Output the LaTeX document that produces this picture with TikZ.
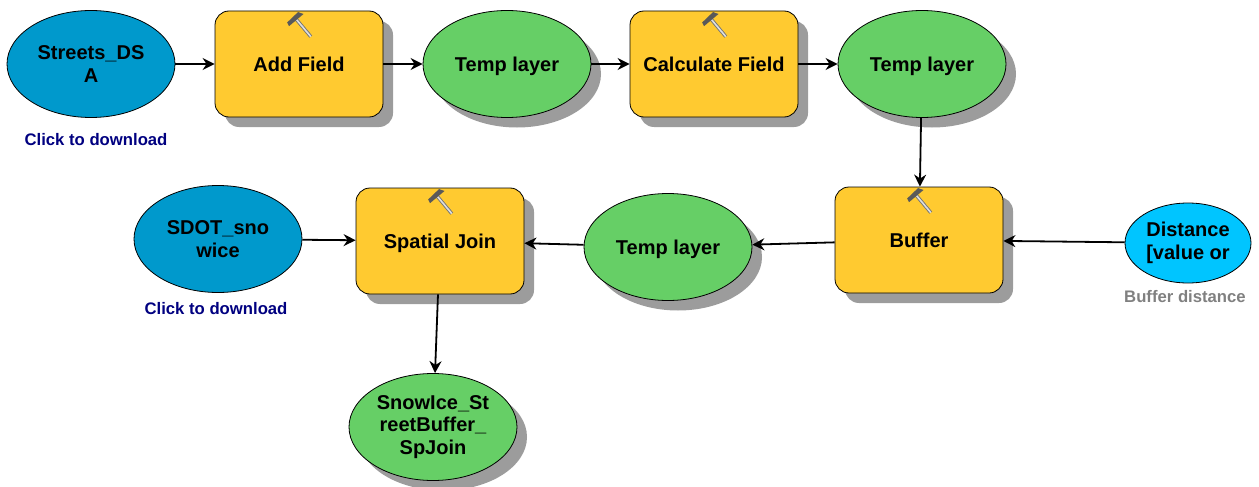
\documentclass[tikz,border=0pt]{standalone}
\usepackage{fontspec}
\setmainfont{Liberation Sans}
\usetikzlibrary{shadows,arrows.meta,shapes.geometric}
\definecolor{toolcolor}{HTML}{FFCA30}
\definecolor{datacolor}{HTML}{66CF66}
\definecolor{inputcolor}{HTML}{0099CC}
\definecolor{paramcolor}{HTML}{00C5FF}
\definecolor{shadowcolor}{HTML}{9C9C9C}
\definecolor{linkcolor}{HTML}{000080}
\tikzset{
    plainnode/.style={draw=black, line width=0.8pt, align=center, font=\fontsize{20}{22.6}\selectfont\bfseries},
    modelnode/.style={plainnode, drop shadow={shadow xshift=10pt, shadow yshift=-10pt, fill=shadowcolor, opacity=1}},
    toolbox/.style={modelnode, rectangle, rounded corners=14pt, fill=toolcolor, minimum width=168pt, minimum height=106pt},
    dataoval/.style={modelnode, ellipse, inner sep=0pt, fill=datacolor, minimum width=168pt, minimum height=107pt},
    inputoval/.style={plainnode, ellipse, inner sep=0pt, fill=inputcolor, minimum width=168pt, minimum height=107pt},
    paramoval/.style={plainnode, ellipse, inner sep=0pt, fill=paramcolor, minimum width=126pt, minimum height=80pt},
    oneline/.style={text depth=0pt},
    note/.style={font=\fontsize{16.7}{20}\selectfont\bfseries, inner sep=0pt},
    flow/.style={-{Stealth[length=12pt,width=12pt]}, line width=1.8pt},
    hammer/.pic={
        \draw[line width=3.4pt, black!55] (0,0) -- (0,23);
        \draw[line width=1.6pt, gray!25] (0,0) -- (0,23);
        \fill[black!65] (-10,1) -- (-9,-3) -- (6,-4) -- (9,1) -- cycle;
    }
}
\begin{document}
\begin{tikzpicture}[x=1pt,y=-1pt]

    % Fix the page to the size of the picture
    \useasboundingbox (0,0) rectangle (1259,487);

    % Top row, left to right
    \node[inputoval] (StreetsDSA) at (91,64) {Streets\_DS\\A};
    \node[toolbox] (AddField) at (299,64) {Add Field};
    \node[dataoval, oneline] (TempA) at (507,64) {Temp layer};
    \node[toolbox] (CalcField) at (714,64) {Calculate Field};
    \node[dataoval, oneline] (TempB) at (922,64) {Temp layer};

    % Middle row, right to left
    \node[paramoval] (Distance) at (1188,243) {Distance\\{[}value or};
    \node[toolbox] (Buffer) at (919,240) {Buffer};
    \node[dataoval, oneline] (TempC) at (668,247) {Temp layer};
    \node[toolbox, oneline] (SpatialJoin) at (440,241) {Spatial Join};
    \node[inputoval] (SDOT) at (218,239) {SDOT\_sno\\wice};

    % Result
    \node[dataoval] (SnowIce) at (433,427) {SnowIce\_St\\reetBuffer\_\\SpJoin};

    % Captions under the ovals
    \node[note, text=linkcolor] (StreetsNote) at (96,140) {Click to download};
    \node[note, text=linkcolor] (SDOTNote) at (216,309) {Click to download};
    \node[note, text=gray] (DistanceNote) at (1185,297) {Buffer distance};

    % Hammers on the tool boxes
    \foreach \t in {AddField,CalcField,Buffer,SpatialJoin} {
        \pic[rotate=40] at ([xshift=-3pt,yshift=45pt]\t.center) {hammer};
    }

    % Links between the nodes
    \draw[flow] (StreetsDSA) -- (AddField);
    \draw[flow] (AddField) -- (TempA);
    \draw[flow] (TempA) -- (CalcField);
    \draw[flow] (CalcField) -- (TempB);
    \draw[flow] (TempB) -- (Buffer);
    \draw[flow] (Distance) -- (Buffer);
    \draw[flow] (Buffer) -- (TempC);
    \draw[flow] (TempC) -- (SpatialJoin);
    \draw[flow] (SDOT) -- (SpatialJoin);
    \draw[flow] (SpatialJoin) -- (SnowIce);

\end{tikzpicture}
\end{document}
